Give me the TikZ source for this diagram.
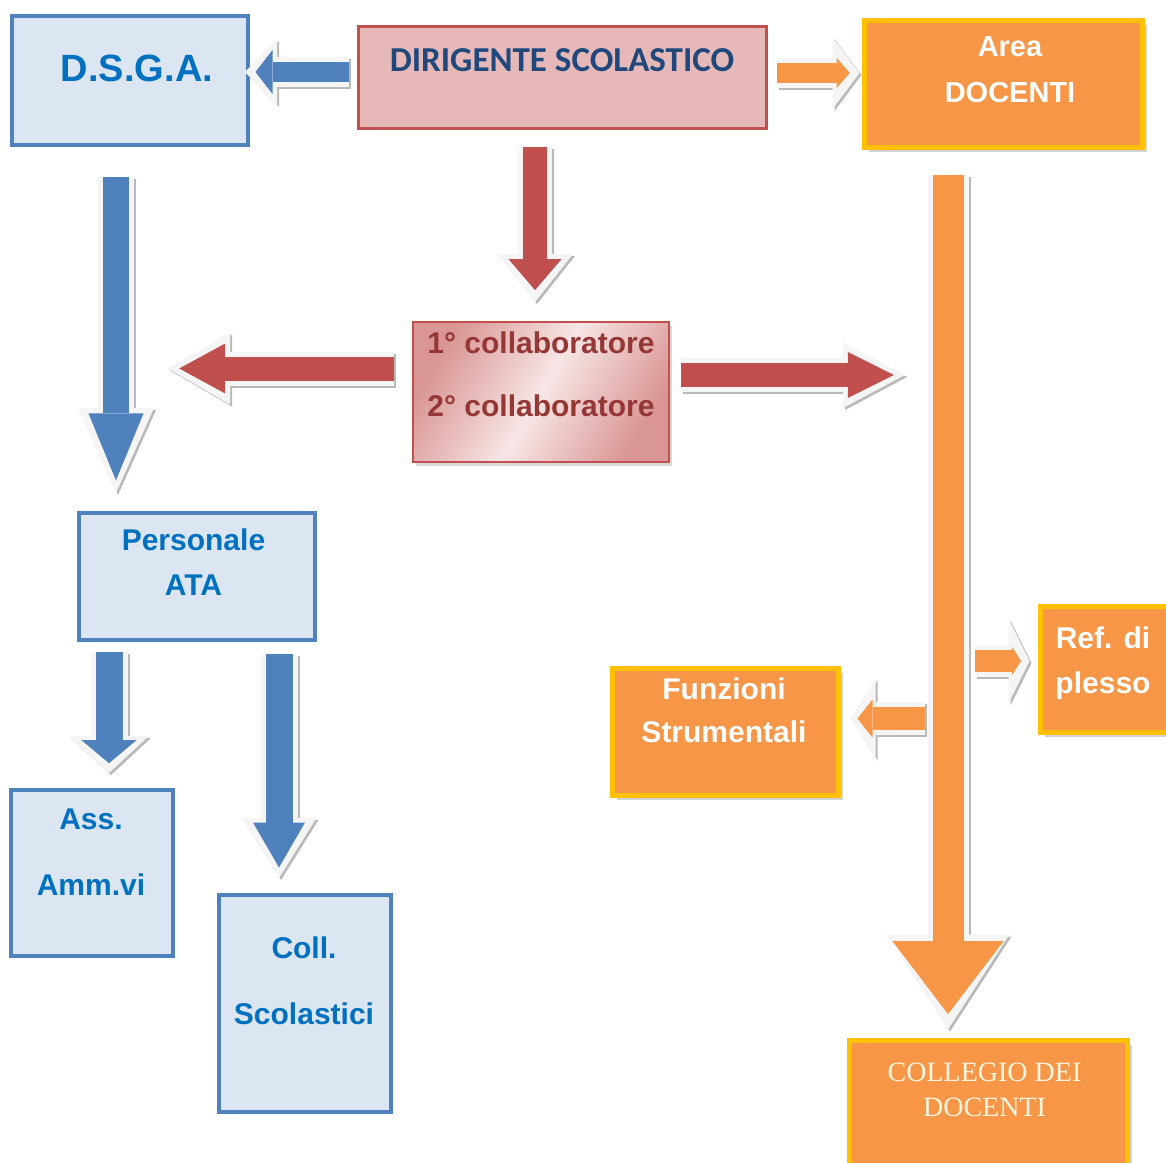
\documentclass[tikz,border=0pt]{standalone}
\usepackage{fontspec}
\setmainfont{Liberation Sans}
\newfontfamily\carlito{Carlito}
\newfontfamily\serifx{Liberation Serif}
\usetikzlibrary{positioning}
\usetikzlibrary{calc}
\usetikzlibrary{shadows}
\usepgflibrary{arrows.meta}
\usepackage{xcolor}

\definecolor{boxblue}{HTML}{DCE6F2}
\definecolor{lineblue}{HTML}{4F81BD}
\definecolor{textblue}{HTML}{0070C0}
\definecolor{navy}{HTML}{1F497D}
\definecolor{pinkfill}{HTML}{E6B9B8}
\definecolor{pinkdark}{HTML}{D99694}
\definecolor{pinklight}{HTML}{F7E6E6}
\definecolor{redline}{HTML}{C0504D}
\definecolor{darkred}{HTML}{953735}
\definecolor{orangefill}{HTML}{F79646}
\definecolor{goldline}{HTML}{FFC000}
\definecolor{cream}{HTML}{FFF6E2}

\tikzset{
  bluebox/.style={draw=lineblue, fill=boxblue, line width=4pt},
  dirbox/.style={draw=redline, fill=pinkfill, line width=3pt},
  collabbox/.style={draw=redline, line width=2pt, left color=pinkdark, right color=pinkdark, middle color=pinklight, shading angle=60,
    drop shadow={shadow xshift=3pt, shadow yshift=-4pt, opacity=0.3}},
  orangebox/.style={draw=goldline, fill=orangefill, line width=5pt,
    drop shadow={shadow xshift=5pt, shadow yshift=-5pt, opacity=0.35}},
  txt/.style 2 args={align=center, inner sep=0pt, font=\bfseries\fontsize{#1}{#2}\selectfont},
  arr/.style n args={6}{draw=#1, line width=#2,
    -{Triangle[length=#4, width=#3, line width=0pt]}, shorten >={0.7*(#6-#4)},
    preaction={draw=gray!55, line width=#2+10pt, shorten >=0pt,
      -{Triangle[length=#6, width=#5, line width=0pt]}, transform canvas={shift={(2pt,-2pt)}}},
    preaction={draw=gray!8, line width=#2+10pt, shorten >=0pt,
      -{Triangle[length=#6, width=#5, line width=0pt]}}},
}

\begin{document}
\begin{tikzpicture}[x=1pt, y=-1pt]
  \useasboundingbox[fill=white] (0,0) rectangle (1166,1162);

  % boxes
  \node[bluebox, minimum width=236pt, minimum height=129pt] (dsga) at (130,80.5) {};
  \node[dirbox, minimum width=408pt, minimum height=102pt] (dir) at (562,77) {};
  \node[orangebox, minimum width=278pt, minimum height=127pt] (area) at (1003,83.5) {};
  \node[collabbox, minimum width=256pt, minimum height=140pt] (collab) at (541,392) {};
  \node[bluebox, minimum width=236pt, minimum height=127pt] (ata) at (197,576.5) {};
  \node[bluebox, minimum width=162pt, minimum height=166pt] (ass) at (92,873) {};
  \node[bluebox, minimum width=172pt, minimum height=217pt] (coll) at (305,1003.5) {};
  \node[orangebox, minimum width=226pt, minimum height=127pt] (funz) at (725,731.5) {};
  \node[orangebox, minimum width=135pt, minimum height=126pt] (ref) at (1107.5,669) {};
  \node[orangebox, minimum width=278pt, minimum height=135pt] (collegio) at (988,1107.5) {};

  % texts
  \node[txt={38pt}{42pt}, text=textblue] (dsga-t) at ([shift={(7pt,12.5pt)}]dsga.center) {D.S.G.A.};
  \node[txt={35pt}{40pt}, text=navy, font=\carlito\bfseries\fontsize{35pt}{40pt}\selectfont] (dir-t) at ([yshift=17pt]dir.center) {DIRIGENTE SCOLASTICO};
  \node[txt={29pt}{46pt}, text=white] (area-t) at ([shift={(7pt,13.5pt)}]area.center) {Area\\DOCENTI};
  \node[txt={30pt}{63pt}, text=darkred] (collab-t) at ([yshift=17.5pt]collab.center) {1° collaboratore\\2° collaboratore};
  \node[txt={30pt}{45pt}, text=textblue] (ata-t) at ([shift={(-3.5pt,14pt)}]ata.center) {Personale\\ATA};
  \node[txt={30pt}{66pt}, text=textblue] (ass-t) at ([shift={(-1pt,21pt)}]ass.center) {Ass.\\Amm.vi};
  \node[txt={30pt}{66pt}, text=textblue] (coll-t) at ([shift={(-1pt,22.5pt)}]coll.center) {Coll.\\Scolastici};
  \node[txt={30pt}{43pt}, text=white] (funz-t) at ([shift={(-1pt,21pt)}]funz.center) {Funzioni\\Strumentali};
  \node[txt={30pt}{45pt}, text=white] (ref-t) at ([shift={(-4.5pt,5.5pt)}]ref.center) {Ref. di\\plesso};
  \node[txt={28pt}{35pt}, text=cream, font=\serifx\fontsize{28pt}{35pt}\selectfont] (collegio-t) at ([shift={(-3.5pt,18pt)}]collegio.center) {COLLEGIO DEI\\DOCENTI};

  % free ends
  \coordinate (redleft) at (168,368.5);
  \coordinate (redright) at (905,375);
  \coordinate (funzfrom) at (925,718.5);
  \coordinate (reffrom) at (975,661);

  % block arrows
  \draw[arr={lineblue}{20pt}{44pt}{17pt}{66pt}{32pt}] ([shift={(-8pt,5pt)}]dir.west) -- ([shift={(-5pt,8.5pt)}]dsga.east);
  \draw[arr={redline}{24pt}{53pt}{31pt}{76pt}{48pt}] ([shift={(-27pt,-17pt)}]dir.south) -- ([shift={(-6pt,19pt)}]collab.north);
  \draw[arr={orangefill}{20pt}{30pt}{13pt}{72pt}{27pt}] ([shift={(9pt,4pt)}]dir.east) -- ([shift={(-2pt,10.5pt)}]area.west);
  \draw[arr={lineblue}{26pt}{55pt}{67pt}{76pt}{85pt}] ([shift={(-14pt,-30pt)}]dsga.south) -- ([shift={(-81pt,18pt)}]ata.north);
  \draw[arr={redline}{24pt}{50pt}{46pt}{72pt}{62pt}] ([shift={(-18pt,23.5pt)}]collab.west) -- (redleft);
  \draw[arr={redline}{24pt}{46pt}{46pt}{66pt}{62pt}] ([shift={(11pt,17pt)}]collab.east) -- (redright);
  \draw[arr={lineblue}{27pt}{55pt}{23pt}{80pt}{37pt}] ([shift={(-88pt,-10pt)}]ata.south) -- ([shift={(17pt,15pt)}]ass.north);
  \draw[arr={lineblue}{27pt}{52pt}{45pt}{75pt}{60pt}] ([shift={(82pt,-12pt)}]ata.south) -- ([shift={(-26pt,15pt)}]coll.north);
  \draw[arr={orangefill}{31pt}{111pt}{73pt}{123pt}{95pt}] ([shift={(-55pt,-25pt)}]area.south) -- ([shift={(-40pt,8pt)}]collegio.north);
  \draw[arr={orangefill}{23pt}{38pt}{15pt}{80pt}{25pt}] (funzfrom) -- ([shift={(10pt,13pt)}]funz.east);
  \draw[arr={orangefill}{22pt}{28pt}{9pt}{85pt}{21pt}] (reffrom) -- ([shift={(-8pt,8pt)}]ref.west);
\end{tikzpicture}
\end{document}
